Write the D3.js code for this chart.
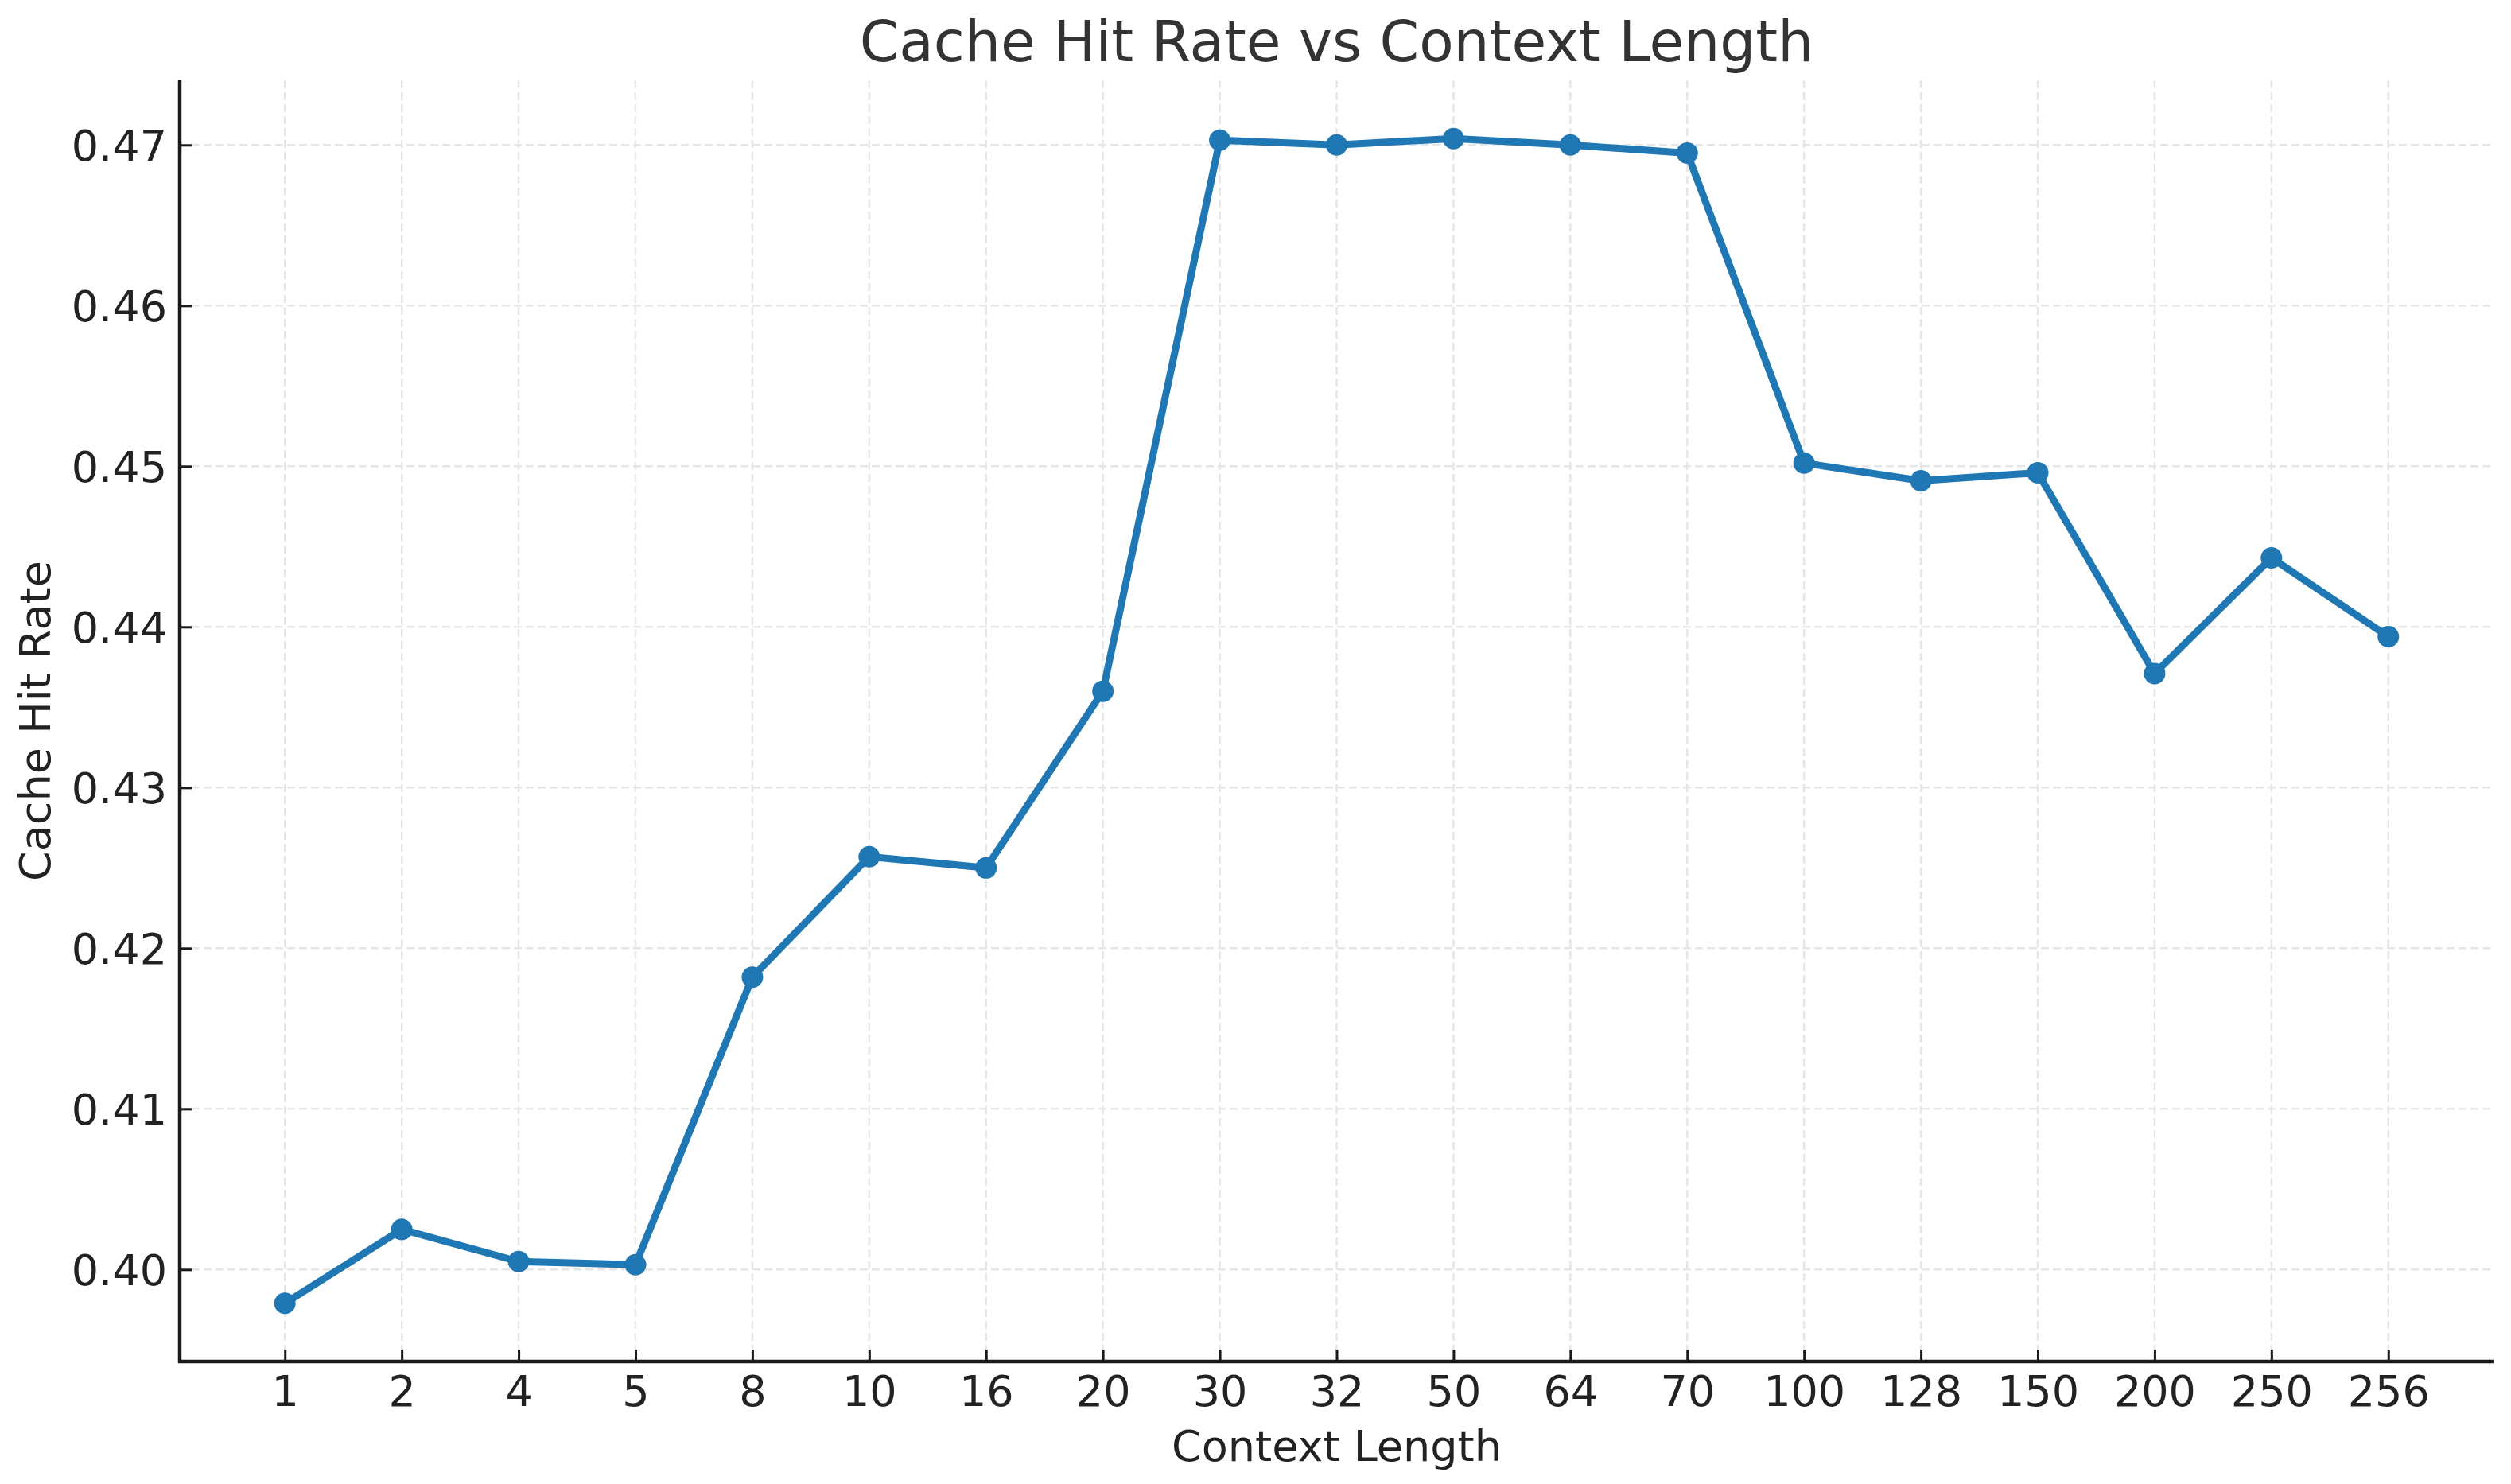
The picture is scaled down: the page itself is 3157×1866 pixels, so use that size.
<!DOCTYPE html>
<html>
<head>
<meta charset="utf-8">
<script src="https://cdn.jsdelivr.net/npm/d3@7"></script>
<style>
  html, body { margin: 0; padding: 0; background: #ffffff; }
  svg { display: block; font-family: "DejaVu Sans", sans-serif; }
</style>
</head>
<body>
<div id="chart"></div>
<script>
// ---- Data ----
const contextLengths = ["1", "2", "4", "5", "8", "10", "16", "20", "30", "32", "50", "64", "70", "100", "128", "150", "200", "250", "256"];
const hitRates = [0.3979, 0.4025, 0.4005, 0.4003, 0.4182, 0.4257, 0.4250, 0.4360, 0.4703, 0.4700, 0.4704, 0.4700, 0.4695, 0.4502, 0.4491, 0.4496, 0.4371, 0.4443, 0.4394];
const yTicks = [0.40, 0.41, 0.42, 0.43, 0.44, 0.45, 0.46, 0.47];
const titleText = "Cache Hit Rate vs Context Length";
const xLabelText = "Context Length";
const yLabelText = "Cache Hit Rate";

// ---- Layout ----
const W = 3157, H = 1866;
const margin = { left: 226, right: 22, top: 101, bottom: 154 };
const innerW = W - margin.left - margin.right;
const innerH = H - margin.top - margin.bottom;

const svg = d3.select("#chart").append("svg")
  .attr("width", W).attr("height", H);

const g = svg.append("g").attr("transform", `translate(${margin.left},${margin.top})`);

const x = d3.scalePoint().domain(contextLengths).range([0, innerW]).padding(0.9);
const yMin = d3.min(hitRates), yMax = d3.max(hitRates);
const pad = (yMax - yMin) * 0.05;
const y = d3.scaleLinear().domain([yMin - pad, yMax + pad]).range([innerH, 0]);

// grid
const gridColor = "#e6e6e6";
g.append("g").selectAll("line").data(contextLengths).join("line")
  .attr("x1", d => x(d)).attr("x2", d => x(d))
  .attr("y1", 0).attr("y2", innerH)
  .attr("stroke", gridColor).attr("stroke-width", 2.5)
  .attr("stroke-dasharray", "10,5");
g.append("g").selectAll("line").data(yTicks).join("line")
  .attr("x1", 0).attr("x2", innerW)
  .attr("y1", d => y(d)).attr("y2", d => y(d))
  .attr("stroke", gridColor).attr("stroke-width", 2.5)
  .attr("stroke-dasharray", "10,5");

// axes
const xAxis = d3.axisBottom(x).tickSizeInner(-15).tickSizeOuter(0).tickPadding(0);
const yAxis = d3.axisLeft(y).tickValues(yTicks).tickFormat(d3.format(".2f"))
  .tickSizeInner(-15).tickSizeOuter(0).tickPadding(0);

const gx = g.append("g").attr("transform", `translate(0,${innerH})`).call(xAxis);
gx.select(".domain").attr("stroke", "#1a1a1a").attr("stroke-width", 4.5)
  .attr("d", `M-2,0H${innerW}`);
gx.selectAll(".tick line").attr("stroke", "#1a1a1a").attr("stroke-width", 3);
gx.selectAll(".tick text").attr("y", 56).attr("dy", null)
  .attr("font-size", 54).attr("fill", "#222").attr("font-family", "DejaVu Sans");

const gy = g.append("g").call(yAxis);
gy.select(".domain").attr("stroke", "#1a1a1a").attr("stroke-width", 4.5)
  .attr("d", `M0,${innerH + 2}V0`);
gy.selectAll(".tick line").attr("stroke", "#1a1a1a").attr("stroke-width", 3);
gy.selectAll(".tick text").attr("x", -16).attr("dy", 19.5)
  .attr("font-size", 54).attr("fill", "#222").attr("font-family", "DejaVu Sans");

// line
const line = d3.line().x((d, i) => x(contextLengths[i])).y(d => y(d));
g.append("path").datum(hitRates)
  .attr("fill", "none").attr("stroke", "#1f77b4")
  .attr("stroke-width", 9).attr("stroke-linejoin", "round").attr("stroke-linecap", "round")
  .attr("d", line);

g.append("g").selectAll("circle").data(hitRates).join("circle")
  .attr("cx", (d, i) => x(contextLengths[i])).attr("cy", d => y(d))
  .attr("r", 13.5).attr("fill", "#1f77b4");

// title & labels
svg.append("text").attr("x", margin.left + innerW / 2).attr("y", 77)
  .attr("text-anchor", "middle").attr("font-size", 71).attr("fill", "#333333")
  .text(titleText);

svg.append("text").attr("x", margin.left + innerW / 2).attr("y", 1837)
  .attr("text-anchor", "middle").attr("font-size", 54).attr("fill", "#222")
  .text(xLabelText);

svg.append("text")
  .attr("transform", `translate(63,${margin.top + innerH / 2}) rotate(-90)`)
  .attr("text-anchor", "middle").attr("font-size", 54).attr("fill", "#222")
  .text(yLabelText);
</script>
</body>
</html>
